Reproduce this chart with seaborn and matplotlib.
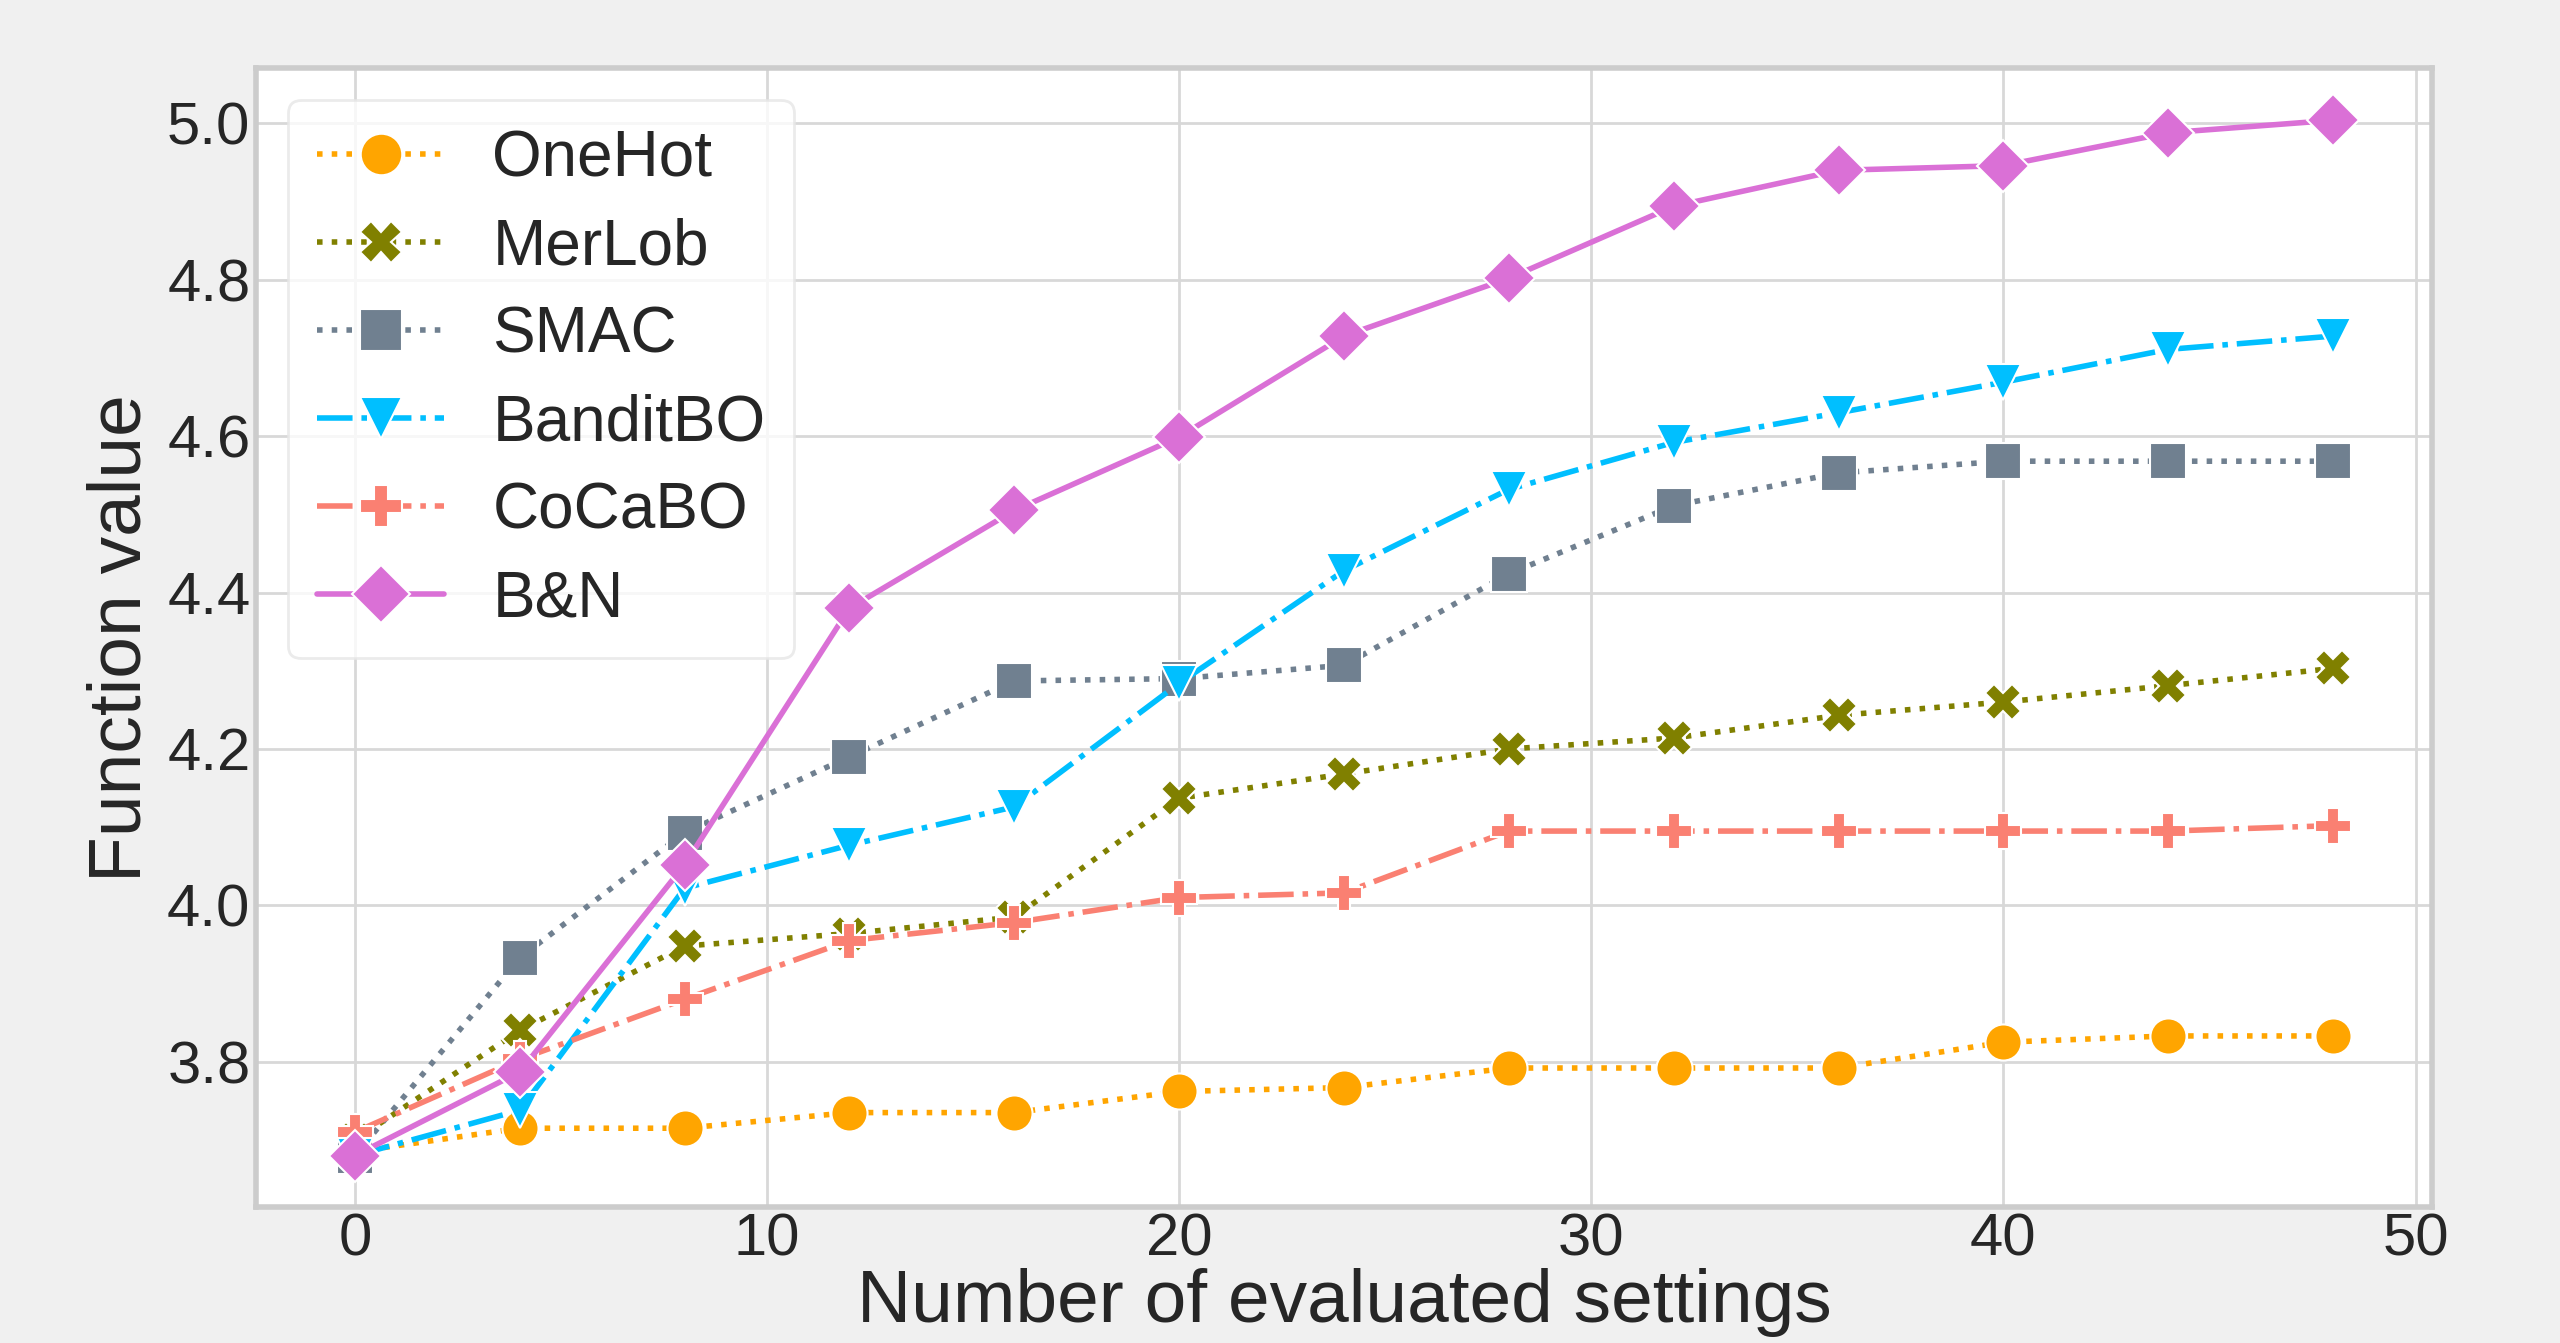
import pandas as pd
import seaborn as sns
import matplotlib.pyplot as plt

# evaluation budget (x axis)
steps = [0, 4, 8, 12, 16, 20, 24, 28, 32, 36, 40, 44, 48]

onehot = [3.685, 3.715, 3.715, 3.735, 3.735, 3.762, 3.767, 3.792, 3.792, 3.792, 3.825, 3.833, 3.833]
merlob = [3.700, 3.840, 3.948, 3.964, 3.985, 4.137, 4.168, 4.200, 4.214, 4.243, 4.260, 4.281, 4.303]
smac = [3.680, 3.933, 4.093, 4.190, 4.287, 4.290, 4.307, 4.424, 4.511, 4.553, 4.568, 4.568, 4.568]
banditbo = [3.680, 3.738, 4.022, 4.077, 4.126, 4.284, 4.428, 4.532, 4.592, 4.630, 4.669, 4.711, 4.728]
cocabo = [3.710, 3.803, 3.880, 3.955, 3.978, 4.010, 4.016, 4.095, 4.095, 4.095, 4.095, 4.095, 4.102]
bn = [3.680, 3.787, 4.052, 4.380, 4.505, 4.599, 4.728, 4.802, 4.894, 4.940, 4.946, 4.988, 5.004]

methods = ["OneHot", "MerLob", "SMAC", "BanditBO", "CoCaBO", "B&N"]
series = [onehot, merlob, smac, banditbo, cocabo, bn]
colors = ["orange", "olive", "slategray", "deepskyblue", "salmon", "orchid"]
markers = ["o", "X", "s", "v", "P", "D"]
styles = [":", ":", ":", "-.", "-.", "-"]

sns.set_style("whitegrid")
plt.rcParams["font.family"] = ["Liberation Sans", "DejaVu Sans"]

fig = plt.figure(figsize=(12.8, 6.715), dpi=200, facecolor="#f0f0f0")
ax = fig.add_axes([0.100, 0.101, 0.850, 0.848])
ax.set_facecolor("white")

for name, vals, c, m, ls in zip(methods, series, colors, markers, styles):
    df = pd.DataFrame({"step": steps, "value": vals})
    sns.lineplot(data=df, x="step", y="value", ax=ax, label=name, color=c,
                 marker=m, linestyle=ls, markersize=13, linewidth=2.0)

ax.set_xticks([0, 10, 20, 30, 40, 50])
ax.set_yticks([3.8, 4.0, 4.2, 4.4, 4.6, 4.8, 5.0])
ax.tick_params(axis="both", labelsize=21.5, colors="#262626", length=0, pad=2)
ax.set_xlabel("Number of evaluated settings", fontsize=27, color="#262626", labelpad=0)
ax.set_ylabel("Function value", fontsize=27, color="#262626", labelpad=4)
ax.grid(True, color="#d8d8d8", linewidth=1.0)
for s in ax.spines.values():
    s.set_color("#cccccc")
    s.set_linewidth(2.0)

leg = ax.legend(loc="upper left", fontsize=23, frameon=True, handletextpad=0.75,
                labelspacing=0.44, borderpad=0.45, markerscale=1.15)
leg.get_frame().set_edgecolor("#e6e6e6")
leg.get_frame().set_facecolor("white")
leg.get_frame().set_alpha(0.8)

fig.savefig("out.png", dpi=200, facecolor=fig.get_facecolor())
